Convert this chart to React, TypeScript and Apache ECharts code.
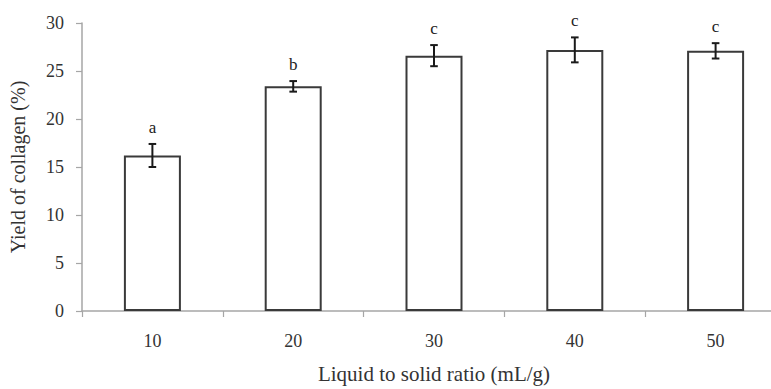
import React, { useEffect, useRef } from "react";
import * as echarts from "echarts";

const categories = ["10", "20", "30", "40", "50"];
const yieldValues = [16.2, 23.4, 26.6, 27.2, 27.1];
const errorValues = [1.2, 0.55, 1.1, 1.3, 0.8];
const groupLetters = ["a", "b", "c", "c", "c"];
const yTicks = { min: 0, max: 30, interval: 5 };

const FONT = "Liberation Serif";

export default function App() {
  const ref = useRef<HTMLDivElement>(null);

  useEffect(() => {
    if (!ref.current) return;
    const chart = echarts.init(ref.current, null, { renderer: "svg" });
    const errData = categories.map((c, i) => [
      i,
      yieldValues[i] + errorValues[i],
      yieldValues[i] - errorValues[i],
    ]);
    chart.setOption({
      animation: false,
      backgroundColor: "#ffffff",
      grid: { left: 82, right: 0, top: 23, bottom: 78, containLabel: false },
      xAxis: {
        type: "category",
        data: categories,
        boundaryGap: true,
        name: "Liquid to solid ratio (mL/g)",
        nameLocation: "middle",
        nameGap: 52,
        nameTextStyle: { fontFamily: FONT, fontSize: 21, color: "#333333" },
        axisLine: { show: true, lineStyle: { color: "#a6a6a6", width: 1.5 } },
        axisTick: { show: true, length: 6, lineStyle: { color: "#a6a6a6", width: 1.2 } },
        axisLabel: { fontFamily: FONT, fontSize: 18, color: "#333333", margin: 21 },
        splitLine: { show: false },
      },
      yAxis: {
        type: "value",
        min: yTicks.min,
        max: yTicks.max,
        interval: yTicks.interval,
        name: "Yield of collagen (%)",
        nameLocation: "middle",
        nameGap: 54,
        nameTextStyle: { fontFamily: FONT, fontSize: 20, color: "#333333" },
        axisLine: { show: true, lineStyle: { color: "#a6a6a6", width: 1.5 } },
        axisTick: { show: true, length: 6, lineStyle: { color: "#a6a6a6", width: 1.2 } },
        axisLabel: { fontFamily: FONT, fontSize: 18, color: "#333333", margin: 18 },
        splitLine: { show: false },
      },
      series: [
        {
          type: "bar",
          data: yieldValues,
          barWidth: 57,
          itemStyle: { color: "#ffffff", borderColor: "#3a3a3a", borderWidth: 2 },
          z: 2,
        },
        {
          type: "custom",
          data: errData,
          z: 5,
          renderItem: (params: any, api: any) => {
            const x = api.value(0);
            const hi = api.coord([x, api.value(1)]);
            const lo = api.coord([x, api.value(2)]);
            const cap = 3.8;
            const style = { stroke: "#1a1a1a", lineWidth: 2 };
            return {
              type: "group",
              children: [
                { type: "line", shape: { x1: hi[0], y1: hi[1], x2: lo[0], y2: lo[1] }, style },
                { type: "line", shape: { x1: hi[0] - cap, y1: hi[1], x2: hi[0] + cap, y2: hi[1] }, style },
                { type: "line", shape: { x1: lo[0] - cap, y1: lo[1], x2: lo[0] + cap, y2: lo[1] }, style },
                {
                  type: "text",
                  style: {
                    text: groupLetters[params.dataIndex],
                    x: hi[0],
                    y: hi[1] - 16.5,
                    align: "center",
                    verticalAlign: "middle",
                    fontFamily: FONT,
                    fontSize: 17,
                    fill: "#222222",
                  },
                },
              ],
            };
          },
        },
      ],
    });
    return () => chart.dispose();
  }, []);

  return (
    <div
      style={{
        position: "fixed",
        left: 0,
        top: 0,
        width: 771,
        height: 389,
        overflow: "hidden",
        background: "#fff",
      }}
    >
      <div ref={ref} style={{ width: 786, height: 389 }} />
    </div>
  );
}
